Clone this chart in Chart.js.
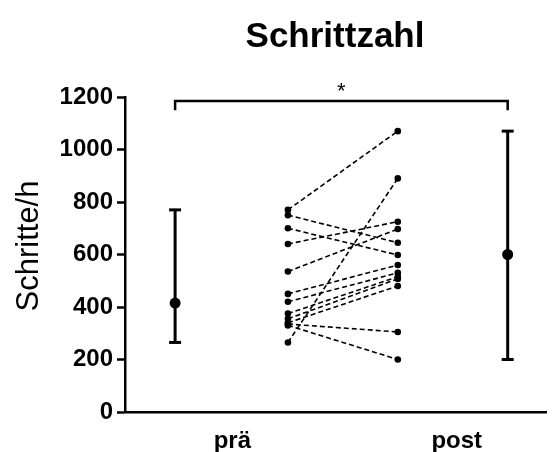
<!DOCTYPE html>
<html>
<head>
<meta charset="utf-8">
<script src="https://cdn.jsdelivr.net/npm/chart.js@4"></script>
<style>
  html, body { margin: 0; padding: 0; background: #fff; }
  #wrap { width: 555px; height: 452px; position: relative; }
</style>
</head>
<body>
<div id="wrap"><canvas id="c" width="555" height="452"></canvas></div>
<script>
// Step counts per hour, before (prä) and after (post), paired by subject
const categories = ['prä', 'post'];
const praeValues = [770, 750, 700, 640, 535, 450, 420, 375, 355, 340, 335, 330, 265];
const postValues = [1070, 645, 598, 725, 697, 560, 530, 515, 507, 480, 305, 200, 890];
// Group summary (centre point) shown with min–max bars
const centerValues = [415, 600];
const yTicks = [0, 200, 400, 600, 800, 1000, 1200];
const yTitle = 'Schritte/h';
const chartTitle = 'Schrittzahl';
const significance = '*';
const bracketTop = 1185;
const bracketFoot = 1150;

// Horizontal layout positions on a 0–10 x scale
const summaryPos = [1.19, 9.09];
const pairPos = [3.87, 6.48];
const labelPos = [2.55, 7.88];

const FONT = '"Liberation Sans", Arial, sans-serif';
const minValues = [Math.min(...praeValues), Math.min(...postValues)];
const maxValues = [Math.max(...praeValues), Math.max(...postValues)];

const datasets = [];

// Paired subject lines
praeValues.forEach((v, i) => {
  datasets.push({
    type: 'line',
    data: [{ x: pairPos[0], y: v }, { x: pairPos[1], y: postValues[i] }],
    borderColor: '#000',
    borderWidth: 1.6,
    borderDash: [5, 3],
    pointRadius: 3.3,
    pointBackgroundColor: '#000',
    pointBorderWidth: 0,
    fill: false
  });
});

// Min–max bars with caps and centre markers
categories.forEach((c, i) => {
  datasets.push({
    type: 'line',
    data: [{ x: summaryPos[i], y: minValues[i] }, { x: summaryPos[i], y: maxValues[i] }],
    borderColor: '#000',
    borderWidth: 3,
    pointStyle: 'line',
    pointRadius: 6,
    pointBorderWidth: 3,
    pointBorderColor: '#000'
  });
  datasets.push({
    type: 'scatter',
    data: [{ x: summaryPos[i], y: centerValues[i] }],
    pointRadius: 5.5,
    pointBackgroundColor: '#000',
    pointBorderWidth: 0
  });
});

// Significance bracket between the two groups
datasets.push({
  type: 'line',
  data: [
    { x: summaryPos[0], y: bracketFoot },
    { x: summaryPos[0], y: bracketTop },
    { x: summaryPos[1], y: bracketTop },
    { x: summaryPos[1], y: bracketFoot }
  ],
  borderColor: '#000',
  borderWidth: 2.5,
  pointRadius: 0,
  clip: false
});

// Chart title, y-axis title and significance star
const overlay = {
  id: 'overlay',
  afterDraw(chart) {
    const { ctx, scales: { x, y } } = chart;
    ctx.save();
    ctx.fillStyle = '#000';
    ctx.textAlign = 'center';
    ctx.textBaseline = 'middle';
    ctx.font = 'bold 35px ' + FONT;
    ctx.fillText(chartTitle, 335, 37);
    ctx.font = '22px ' + FONT;
    const mid = (x.getPixelForValue(summaryPos[0]) + x.getPixelForValue(summaryPos[1])) / 2;
    ctx.fillText(significance, mid, y.getPixelForValue(bracketTop) - 9);
    ctx.translate(29, 246);
    ctx.rotate(-Math.PI / 2);
    ctx.font = '31px ' + FONT;
    ctx.fillText(yTitle, 0, 0);
    ctx.restore();
  }
};

new Chart(document.getElementById('c'), {
  data: { datasets },
  plugins: [overlay],
  options: {
    responsive: false,
    animation: false,
    layout: { padding: { top: 97, right: 0, left: 0, bottom: 0 } },
    plugins: { legend: { display: false }, tooltip: { enabled: false }, title: { display: false } },
    scales: {
      x: {
        type: 'linear',
        min: 0,
        max: 10,
        grid: { display: false },
        border: { display: true, color: '#000', width: 2.5 },
        afterBuildTicks(scale) { scale.ticks = labelPos.map(v => ({ value: v })); },
        afterFit(scale) { scale.height = 40; },
        ticks: {
          autoSkip: false,
          maxRotation: 0,
          padding: 7,
          color: '#000',
          font: { family: FONT, size: 24, weight: 'bold' },
          callback(v) { const i = labelPos.indexOf(v); return i >= 0 ? categories[i] : ''; }
        }
      },
      y: {
        min: 0,
        max: 1200,
        afterBuildTicks(scale) { scale.ticks = yTicks.map(v => ({ value: v })); },
        afterFit(scale) { scale.width = 125; },
        grid: { drawOnChartArea: false, tickLength: 8, color: '#000', tickWidth: 2.5 },
        border: { display: true, color: '#000', width: 2.5 },
        ticks: {
          padding: 4,
          color: '#000',
          font: { family: FONT, size: 24, weight: 'bold' },
          callback(v) { return String(v); }
        }
      }
    }
  }
});
</script>
</body>
</html>
